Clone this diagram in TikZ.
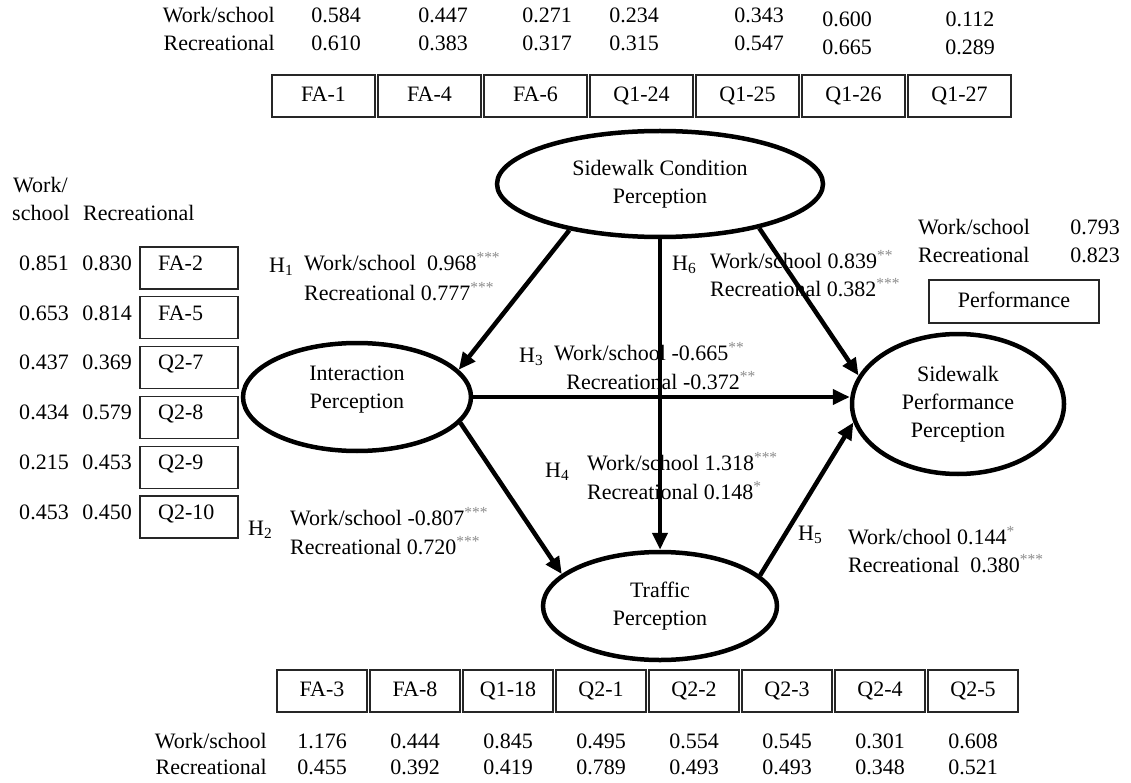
\documentclass[tikz,border=0pt]{standalone}
\usepackage{fontspec}
\setmainfont{Liberation Serif}
\usetikzlibrary{arrows.meta,shapes.geometric}
\newcommand\sig[1]{\textsuperscript{\color{black!45}#1}}
\begin{document}
\begin{tikzpicture}[x=1pt,y=-1pt,
  every node/.style={font=\fontsize{22}{28}\selectfont, inner sep=0pt},
  latent/.style={ellipse, draw, line width=4.5pt, align=center},
  indicator/.style={draw=black!85, line width=1.3pt, minimum height=42pt,
    text height=15pt, text depth=4pt},
  effect/.style={line width=4.5pt, -{Triangle[length=17pt,width=15pt]}},
  lbl/.style={anchor=mid west},
  rlbl/.style={anchor=mid east},
  val/.style={anchor=mid}]
\useasboundingbox[fill=white] (0,0) rectangle (1131,783);

% latent constructs
\node[latent, minimum width=326pt, minimum height=106pt] (sc) at (660,184) {Sidewalk Condition\\Perception};
\node[latent, minimum width=228pt, minimum height=108pt] (ip) at (357,397) {};
\node[align=center] (ipt) at (357,390) {Interaction\\Perception};
\node[latent, minimum width=212pt, minimum height=140pt] (pp) at (958,404) {Sidewalk\\Performance\\Perception};
\node[latent, minimum width=234pt, minimum height=108pt] (tp) at (660,606) {Traffic\\Perception};

% structural paths
\draw[effect] (sc.207) -- (ip.15);
\draw[effect] (sc.south) -- (tp.north);
\draw[effect] (sc.336) -- (pp.164);
\draw[effect] (ip.east) -- (ip.east -| pp.west);
\draw[effect] (ip.346) -- (tp.162);
\draw[effect] (tp.17) -- (pp.190);

% path coefficients
\node[lbl] (h1) at (269,270) {H\textsubscript{1}};
\node[lbl] (h1a) at (304,268) {Work/school\ \ 0.968\sig{***}};
\node[lbl] (h1b) at (304,298) {Recreational 0.777\sig{***}};
\node[lbl] (h6) at (672,268) {H\textsubscript{6}};
\node[lbl] (h6a) at (710,266) {Work/school 0.839\sig{**}};
\node[lbl] (h6b) at (710,294) {Recreational 0.382\sig{***}};
\node[lbl] (h3) at (519,360) {H\textsubscript{3}};
\node[lbl] (h3a) at (554,358) {Work/school -0.665\sig{**}};
\node[rlbl] (h3b) at (756,387) {Recreational -0.372\sig{**}};
\node[lbl] (h4) at (545,475) {H\textsubscript{4}};
\node[lbl] (h4a) at (587,468) {Work/school 1.318\sig{***}};
\node[lbl] (h4b) at (587,497) {Recreational 0.148\sig{*}};
\node[lbl] (h2) at (248,533) {H\textsubscript{2}};
\node[lbl] (h2a) at (290,523) {Work/school -0.807\sig{***}};
\node[lbl] (h2b) at (290,552) {Recreational 0.720\sig{***}};
\node[lbl] (h5) at (798,538) {H\textsubscript{5}};
\node[lbl] (h5a) at (848,542) {Work/chool 0.144\sig{*}};
\node[lbl] (h5b) at (848,570) {Recreational\ \ 0.380\sig{***}};

% sidewalk condition indicators (top)
\node[rlbl] (tw) at (275,20) {Work/school};
\node[rlbl] (tr) at (275,48) {Recreational};
\foreach \lab [count=\i] in {FA-1,FA-4,FA-6,Q1-24,Q1-25,Q1-26,Q1-27}
  \node[indicator, minimum width=103pt] (t\i) at ({323.5+106*(\i-1)},96) {\lab};
\foreach \xx/\w/\r/\dy [count=\i] in {336/0.584/0.610/0, 443/0.447/0.383/0,
    547/0.271/0.317/0, 634/0.234/0.315/0, 759/0.343/0.547/0,
    847/0.600/0.665/4, 970/0.112/0.289/4} {
  \node[val] (tw\i) at (\xx,20+\dy) {\w};
  \node[val] (tr\i) at (\xx,48+\dy) {\r};
}

% interaction indicators (left)
\node[anchor=mid west] (lw1) at (13,190) {Work/};
\node[anchor=mid west] (lw2) at (12,218) {school};
\node[anchor=mid west] (lr) at (83,218) {Recreational};
\foreach \lab/\w/\r [count=\i] in {FA-2/0.851/0.830, FA-5/0.653/0.814,
    Q2-7/0.437/0.369, Q2-8/0.434/0.579, Q2-9/0.215/0.453, Q2-10/0.453/0.450} {
  \node[indicator, minimum width=98pt] (l\i) at (189,{268+49.8*(\i-1)}) {};
  \node[anchor=mid west] (ll\i) at (158,{268+49.8*(\i-1)}) {\lab};
  \node[val] (lw\i v) at (44,{268+49.8*(\i-1)}) {\w};
  \node[val] (lr\i v) at (107,{268+49.8*(\i-1)}) {\r};
}

% performance indicator (right)
\node[lbl] (rw) at (918,232) {Work/school};
\node[rlbl] (rwv) at (1120,232) {0.793};
\node[lbl] (rr) at (918,260) {Recreational};
\node[rlbl] (rrv) at (1120,260) {0.823};
\node[indicator, minimum width=170pt, minimum height=43pt] (perf) at (1014,301.5) {Performance};

% traffic indicators (bottom)
\node[rlbl] (bw) at (267,746) {Work/school};
\node[rlbl] (br) at (267,772) {Recreational};
\foreach \lab/\w/\r [count=\i] in {FA-3/1.176/0.455, FA-8/0.444/0.392,
    Q1-18/0.845/0.419, Q2-1/0.495/0.789, Q2-2/0.554/0.493, Q2-3/0.545/0.493,
    Q2-4/0.301/0.348, Q2-5/0.608/0.521} {
  \node[indicator, minimum width=90pt] (b\i) at ({322+93*(\i-1)},691) {\lab};
  \node[val] (bw\i) at ({322+93*(\i-1)},746) {\w};
  \node[val] (br\i) at ({322+93*(\i-1)},772) {\r};
}
\end{tikzpicture}
\end{document}
